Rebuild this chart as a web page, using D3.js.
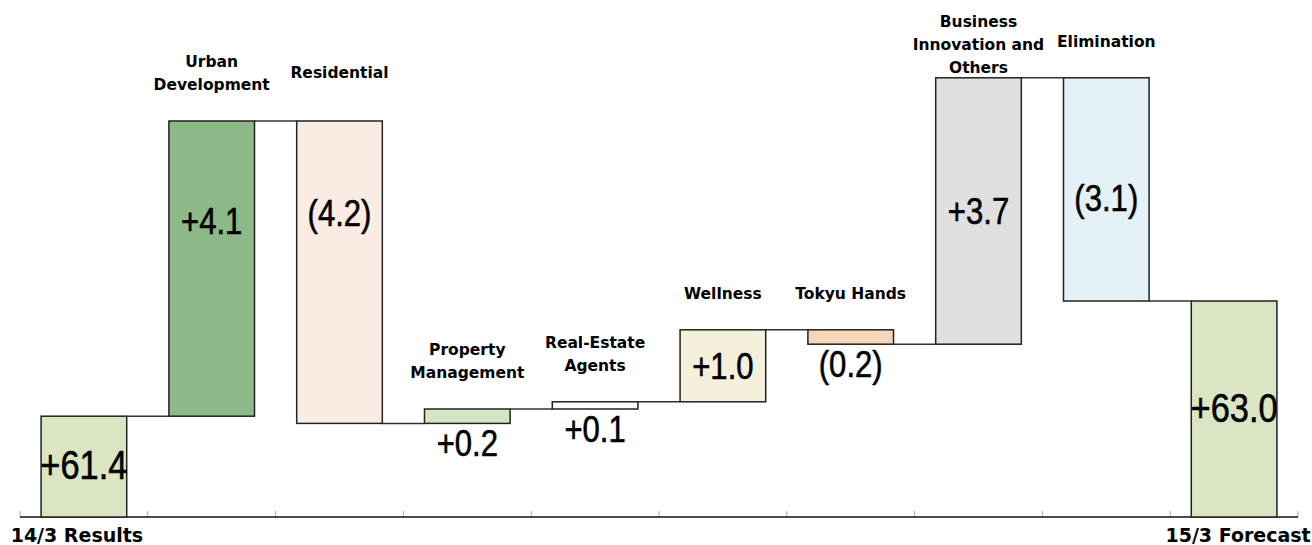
<!DOCTYPE html>
<html>
<head>
<meta charset="utf-8">
<script src="https://cdn.jsdelivr.net/npm/d3@7"></script>
<style>
  html, body { margin: 0; padding: 0; background: #fff; }
  svg { display: block; }
</style>
</head>
<body>
<svg id="chart" width="1312" height="545"></svg>
<script>
// Operating profit bridge, 14/3 results to 15/3 forecast (billion yen)
const categories = [
  "14/3 Results", "Urban Development", "Residential", "Property Management",
  "Real-Estate Agents", "Wellness", "Tokyu Hands",
  "Business Innovation and Others", "Elimination", "15/3 Forecast"
];
const values = [61.4, 4.1, -4.2, 0.2, 0.1, 1.0, -0.2, 3.7, -3.1, 63.0];
const kinds = ["total", "delta", "delta", "delta", "delta", "delta", "delta", "delta", "delta", "total"];
const categoryLines = [
  ["14/3 Results"], ["Urban", "Development"], ["Residential"],
  ["Property", "Management"], ["Real-Estate", "Agents"], ["Wellness"],
  ["Tokyu Hands"], ["Business", "Innovation and", "Others"], ["Elimination"],
  ["15/3 Forecast"]
];
const yDomain = [60, 66.6];

// Styling
const fills = ["#dbe5c3", "#8db887", "#faebe3", "#d0e6c4", "#ffffff",
               "#f5f0dc", "#f6d5ba", "#e0e0e0", "#e4f1f7", "#dbe5c3"];
// vertical nudges for a few value labels (px)
const valueNudge = { "Urban Development": -48, "Residential": -60, "Elimination": 8 };
const condense = 0.84;

const svg = d3.select("#chart");
const axisY = 517;

const x = d3.scaleBand()
  .domain(categories)
  .range([20, 1298])
  .paddingInner(0.33)
  .paddingOuter(0.165);

const y = d3.scaleLinear()
  .domain(yDomain)
  .range([axisY, axisY - (yDomain[1] - yDomain[0]) * 72]);

// Build running levels
let level = 0;
const rows = categories.map((c, i) => {
  let lo, hi, end;
  if (kinds[i] === "total") {
    lo = yDomain[0]; hi = values[i]; end = values[i];
  } else {
    const start = level;
    end = start + values[i];
    lo = Math.min(start, end); hi = Math.max(start, end);
  }
  level = end;
  return { c, i, v: values[i], kind: kinds[i], lo, hi, end };
});

const fmt = (r) => {
  const s = Math.abs(r.v).toFixed(1);
  if (r.kind === "total") return "+" + s;
  return r.v >= 0 ? "+" + s : "(" + s + ")";
};

// Axis line and boundary ticks
const boundaries = d3.range(categories.length + 1).map(k => x.range()[0] + k * x.step());
svg.append("g").selectAll("line.tick")
  .data(boundaries)
  .join("line")
  .attr("x1", d => d).attr("x2", d => d)
  .attr("y1", axisY - 6).attr("y2", axisY)
  .attr("stroke", "#aaaaaa").attr("stroke-width", 1);
svg.append("line")
  .attr("x1", x.range()[0]).attr("x2", x.range()[1])
  .attr("y1", axisY).attr("y2", axisY)
  .attr("stroke", "#111").attr("stroke-width", 1.5);

// Connectors between consecutive bars
svg.append("g").selectAll("line.conn")
  .data(rows.slice(0, -1))
  .join("line")
  .attr("x1", d => x(d.c) + x.bandwidth())
  .attr("x2", d => x(categories[d.i + 1]))
  .attr("y1", d => y(d.end)).attr("y2", d => y(d.end))
  .attr("stroke", "#333").attr("stroke-width", 1.5);

// Bars
svg.append("g").selectAll("rect")
  .data(rows)
  .join("rect")
  .attr("x", d => x(d.c))
  .attr("width", x.bandwidth())
  .attr("y", d => y(d.hi))
  .attr("height", d => y(d.lo) - y(d.hi))
  .attr("fill", (d, i) => fills[i])
  .attr("stroke", "#222").attr("stroke-width", 1.5);

// Value labels (condensed digits)
const valueSize = d => d.kind === "total" ? 41 : 37;
const valueY = d => {
  const top = y(d.hi), bot = y(d.lo);
  const size = valueSize(d);
  if (bot - top > 50) {
    return (top + bot) / 2 + size * 0.36 + (valueNudge[d.c] || 0) - (d.kind === "total" ? 2 : 0);
  }
  return bot + 6 + size * 0.72;
};
svg.append("g").selectAll("text")
  .data(rows)
  .join("text")
  .attr("transform", d => `translate(${x(d.c) + x.bandwidth() / 2},${valueY(d)}) scale(${condense},1)`)
  .attr("text-anchor", "middle")
  .attr("font-family", "'Liberation Sans', Arial, sans-serif")
  .attr("font-size", valueSize)
  .attr("fill", "#000")
  .attr("stroke", "#000")
  .attr("stroke-width", 0.6)
  .text(fmt);

// Category labels above delta bars
const lineGap = 23;
const deltaRows = rows.filter(r => r.kind === "delta");
const catG = svg.append("g")
  .attr("font-family", "'DejaVu Sans', sans-serif")
  .attr("font-weight", "bold")
  .attr("font-size", 15.5)
  .attr("fill", "#000")
  .attr("text-anchor", "middle");
deltaRows.forEach(r => {
  const lines = categoryLines[r.i];
  let first = y(r.hi) - 31 - (lines.length - 1) * lineGap;
  if (r.c === "Residential") first -= 12;
  first = Math.max(first, 27);
  const t = catG.append("text")
    .attr("x", x(r.c) + x.bandwidth() / 2);
  lines.forEach((ln, k) => {
    t.append("tspan")
      .attr("x", x(r.c) + x.bandwidth() / 2)
      .attr("y", first + k * lineGap)
      .text(ln);
  });
});

// Category labels under the total bars
const totalRows = rows.filter(r => r.kind === "total");
svg.append("g").selectAll("text")
  .data(totalRows)
  .join("text")
  .attr("x", (d, k) => x(d.c) + x.bandwidth() / 2 + (k === 0 ? -7 : 4))
  .attr("y", 542)
  .attr("text-anchor", "middle")
  .attr("font-family", "'DejaVu Sans', sans-serif")
  .attr("font-weight", "bold")
  .attr("font-size", 19)
  .attr("fill", "#000")
  .text(d => categoryLines[d.i][0]);
</script>
</body>
</html>
